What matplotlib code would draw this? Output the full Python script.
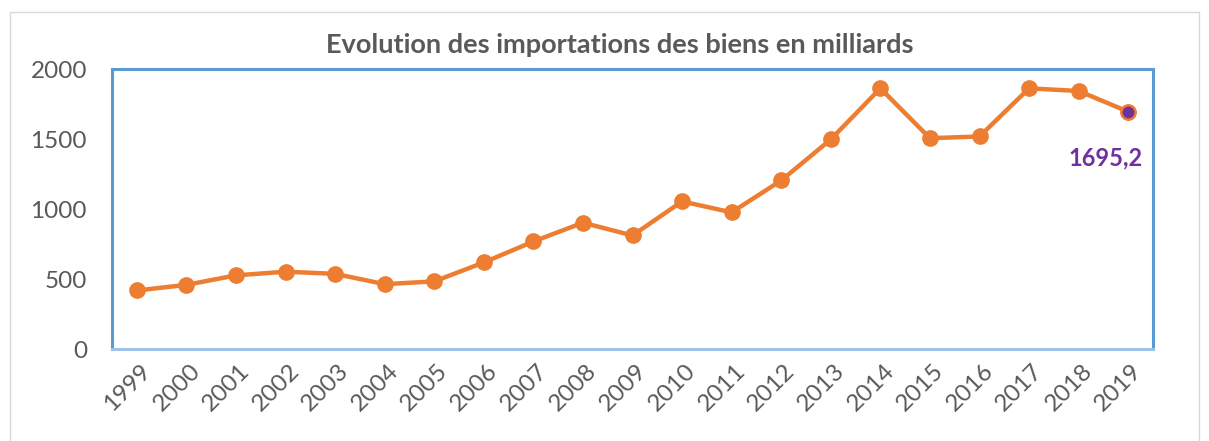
import matplotlib
matplotlib.use("Agg")
import matplotlib.pyplot as plt
from matplotlib.patches import Rectangle

years = ["1999", "2000", "2001", "2002", "2003", "2004", "2005", "2006", "2007", "2008",
         "2009", "2010", "2011", "2012", "2013", "2014", "2015", "2016", "2017", "2018", "2019"]
values = [418, 458, 526, 552, 537, 463, 483, 618, 768, 902,
          811, 1054, 976, 1204, 1497, 1862, 1506, 1518, 1862, 1843, 1695.2]
yticks = [0, 500, 1000, 1500, 2000]
title = "Evolution des importations des biens en milliards"
last_label = "1695,2"

plt.rcParams['font.family'] = ['Lato', 'DejaVu Sans']
grey = "#595959"
orange = "#ED7D31"
purple = "#7030A0"
blue = "#5B9BD5"

fig = plt.figure(figsize=(12.09, 4.41), dpi=100)
ax = fig.add_axes([112/1209, 1 - 349/441, (1153-112)/1209, (349-69)/441])

x = list(range(len(years)))
ax.plot(x, values, color=orange, lw=3.2, marker='o', markersize=11,
        markerfacecolor=orange, markeredgecolor=orange, zorder=3, clip_on=False)
ax.plot([x[-1]], [values[-1]], marker='o', markersize=10, markerfacecolor=purple,
        markeredgecolor=orange, markeredgewidth=1.5, zorder=4, clip_on=False)
ax.annotate(last_label, (x[-1], values[-1]), xytext=(-16, -33), textcoords='offset points',
            ha='center', va='center', color=purple, fontsize=17, fontweight='bold')

ax.set_xlim(-0.5, len(years) - 0.5)
ax.set_ylim(0, 2000)
ax.set_yticks(yticks)
ax.set_yticklabels([str(v) for v in yticks])
ax.set_xticks(x)
ax.set_xticklabels(years, rotation=45, ha='right', rotation_mode='anchor')
ax.tick_params(axis='both', length=0, labelsize=17.5, labelcolor=grey)
ax.tick_params(axis='y', pad=18)
ax.tick_params(axis='x', pad=8)
for lab in ax.get_xticklabels():
    lab.set_transform(lab.get_transform() + matplotlib.transforms.ScaledTranslation(0.03, 0, fig.dpi_scale_trans))

for s in ['left', 'right', 'top']:
    ax.spines[s].set_color(blue)
    ax.spines[s].set_linewidth(2.2)
ax.spines['bottom'].set_color("#9DC3E6")
ax.spines['bottom'].set_linewidth(2.2)

fig.text(620/1209, 1 - 45/441, title, ha='center', va='center', fontsize=19.5,
         fontweight='bold', color=grey)

fig.patches.append(Rectangle((10/1209, -0.02), (1199-10)/1209, 1.02 - 12/441,
                             transform=fig.transFigure, fill=False, edgecolor="#D9D9D9", lw=1))

fig.savefig("out.png", dpi=100)
